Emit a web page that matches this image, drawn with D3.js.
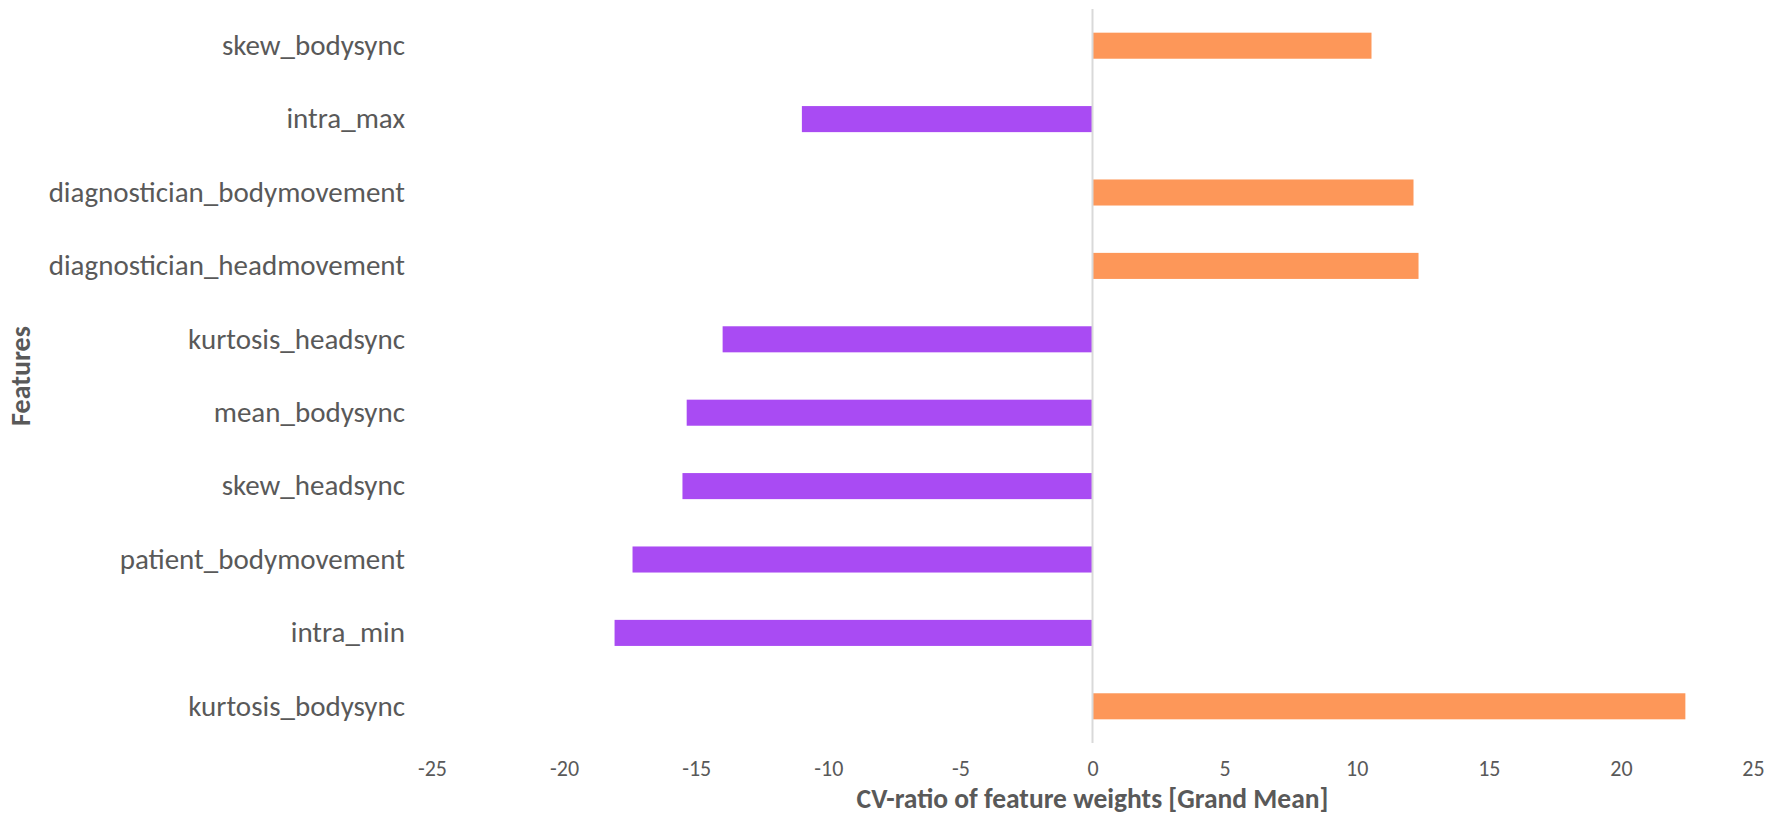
<!DOCTYPE html>
<html>
<head>
<meta charset="utf-8">
<script src="https://cdn.jsdelivr.net/npm/d3@7"></script>
<style>
  html, body { margin: 0; padding: 0; background: #ffffff; }
  svg { display: block; }
  text { font-family: Carlito, Calibri, Lato, "Open Sans", sans-serif; fill: #595959; }
</style>
</head>
<body>
<svg id="chart" width="1770" height="814"></svg>
<script>
const categories = [
  "skew_bodysync",
  "intra_max",
  "diagnostician_bodymovement",
  "diagnostician_headmovement",
  "kurtosis_headsync",
  "mean_bodysync",
  "skew_headsync",
  "patient_bodymovement",
  "intra_min",
  "kurtosis_bodysync"
];
const values = [10.56, -11.0, 12.15, 12.34, -14.0, -15.36, -15.52, -17.41, -18.09, 22.44];
const xTicks = [-25, -20, -15, -10, -5, 0, 5, 10, 15, 20, 25];
const xTitle = "CV-ratio of feature weights [Grand Mean]";
const yTitle = "Features";

const plot = { left: 432, right: 1753, top: 9, bottom: 743 };
const posColor = "#FD9759";
const negColor = "#A94BF3";
const FONT = "Carlito, Calibri, Lato, 'Open Sans', sans-serif";

const svg = d3.select("#chart");

const x = d3.scaleLinear().domain([-25, 25]).range([plot.left, plot.right]);
const y = d3.scaleBand().domain(categories).range([plot.top, plot.bottom])
  .paddingInner(0.645).paddingOuter(0.3225);

// bars
svg.append("g").selectAll("rect")
  .data(categories.map((c, i) => ({ c, v: values[i] })))
  .join("rect")
  .attr("x", d => x(Math.min(0, d.v)))
  .attr("width", d => Math.abs(x(d.v) - x(0)))
  .attr("y", d => y(d.c))
  .attr("height", y.bandwidth())
  .attr("fill", d => d.v >= 0 ? posColor : negColor);

// zero line
svg.append("line")
  .attr("x1", x(0)).attr("x2", x(0))
  .attr("y1", plot.top).attr("y2", plot.bottom)
  .attr("stroke", "#D9D9D9").attr("stroke-width", 2);

// x axis tick labels (plain hyphen minus, as in the reference)
const xAxis = d3.axisBottom(x).tickValues(xTicks).tickSize(0).tickPadding(0)
  .tickFormat(d => String(d));
const gx = svg.append("g").attr("transform", `translate(0, ${plot.bottom})`).call(xAxis);
gx.select(".domain").remove();
gx.selectAll("text")
  .attr("y", 0).attr("dy", null)
  .attr("transform", "translate(0, 33)")
  .style("font-size", "22px").style("fill", "#595959")
  .style("font-family", FONT);

// y axis labels
const yAxis = d3.axisLeft(y).tickSize(0).tickPadding(0);
const gy = svg.append("g").attr("transform", `translate(405, 0)`).call(yAxis);
gy.select(".domain").remove();
gy.selectAll("text")
  .attr("x", 0)
  .style("font-size", "29px").style("fill", "#595959")
  .style("font-family", FONT);

// axis titles
svg.append("text")
  .attr("x", x(0)).attr("y", 808)
  .attr("text-anchor", "middle")
  .style("font-size", "27.5px").style("font-weight", "bold")
  .text(xTitle);

svg.append("text")
  .attr("transform", `translate(30, ${(plot.top + plot.bottom) / 2}) rotate(-90)`)
  .attr("text-anchor", "middle")
  .style("font-size", "28px").style("font-weight", "bold")
  .text(yTitle);
</script>
</body>
</html>
